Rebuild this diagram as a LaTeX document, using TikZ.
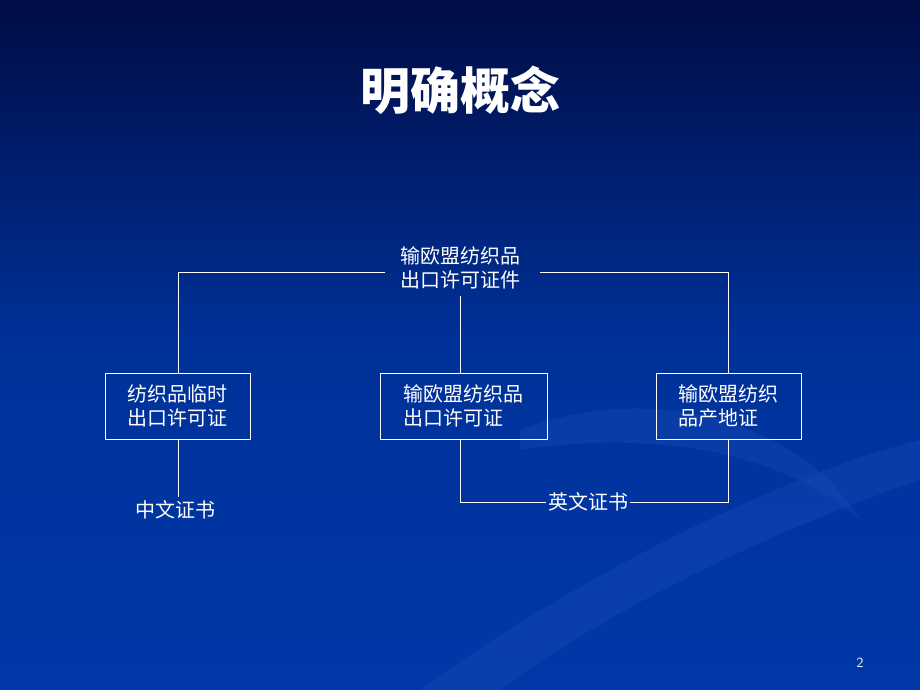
\documentclass[tikz,border=0pt]{standalone}
\usepackage{fontspec}
\newfontfamily\cjk{Noto Sans CJK SC}
\usetikzlibrary{calc}
\definecolor{bgtop}{HTML}{000C45}
\definecolor{bgbot}{HTML}{0038A8}
\definecolor{swoosh}{HTML}{1A4DB8}
\begin{document}
\begin{tikzpicture}[x=1pt,y=-1pt,
  lbl/.style={text=white,font=\cjk\fontsize{20}{24}\selectfont,align=left,inner sep=2pt},
  box/.style={lbl,draw=white,line width=0.8pt,minimum height=66pt,inner sep=0pt},
  ln/.style={draw=white,line width=0.8pt}]
\useasboundingbox (0,0) rectangle (920,690);
\shade[top color=bgtop,bottom color=bgbot,middle color=bgbot!85!bgtop] (0,0) rectangle (920,690);
\fill[swoosh,opacity=0.35] (420,690) .. controls (600,560) and (800,470) .. (920,440) -- (920,480) .. controls (800,520) and (620,600) .. (500,690) -- cycle;
\fill[swoosh,opacity=0.35] (520,430) .. controls (650,380) and (800,420) .. (860,520) .. controls (780,450) and (650,430) .. (520,450) -- cycle;
\node[text=white,font=\cjk\bfseries\fontsize{50}{54}\selectfont] (title) at (460,90) {明确概念};
\node[lbl,align=center] (top) at (460,268) {输欧盟纺织品\\出口许可证件};
\node[box,minimum width=145pt] (L) at (177.5,406) {纺织品临时\\出口许可证};
\node[box,minimum width=167pt] (M) at (463.5,406) {输欧盟纺织品\\出口许可证};
\node[box,minimum width=145pt] (R) at (728.5,406) {输欧盟纺织\\品产地证};
\node[lbl] (zh) at (175,510) {中文证书};
\node[lbl] (en) at (588,502) {英文证书};
\node[text=white,font=\sffamily\fontsize{14}{16}\selectfont] (pg) at (860,663) {2};
\coordinate (tl) at (385,272);
\coordinate (tr) at (540,272);
\draw[ln] (tl) -| (L.north -| 178,0);
\draw[ln] (tr) -| (R.north);
\draw[ln] (460,296) -- (M.north -| 460,0);
\draw[ln] (L.south -| 178,0) -- (178,497);
\draw[ln] (M.south -| 460,0) |- (en.west);
\draw[ln] (en.east) -| (R.south);
\end{tikzpicture}
\end{document}
